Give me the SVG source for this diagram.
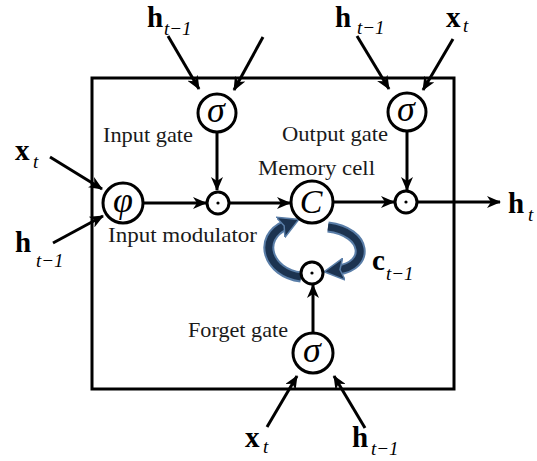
<svg xmlns="http://www.w3.org/2000/svg" width="537" height="461" viewBox="0 0 537 461">
<defs>
<marker id="ah" markerUnits="userSpaceOnUse" markerWidth="16" markerHeight="12" refX="13" refY="6" orient="auto">
<path d="M0,0 L14,6 L0,12 L4,6 z" fill="#000"/>
</marker>
<marker id="bh" markerUnits="userSpaceOnUse" markerWidth="24" markerHeight="24" refX="6" refY="12" orient="auto">
<path d="M0,1 L20,12 L0,23 L4,12 z" fill="#1c3350" stroke="#5a7ea8" stroke-width="1.5"/>
</marker>
<style>
.ln{stroke:#000;stroke-width:3;fill:none}
.ar{stroke:#000;stroke-width:3;fill:none;marker-end:url(#ah)}
.nd{stroke:#000;stroke-width:3;fill:#fff}
.lb{font-family:"Liberation Serif",serif;font-size:21px;fill:#1a1a1a}
.bv{font-family:"Liberation Serif",serif;font-size:29px;font-weight:bold;fill:#000}
.sb{font-family:"Liberation Serif",serif;font-size:19px;font-style:italic;fill:#000}
.gk{font-family:"Liberation Serif",serif;font-size:36px;font-style:italic;fill:#000;text-anchor:middle}
.blo{stroke:#5a7ea8;stroke-width:11;fill:none}
.bli{stroke:#1c3350;stroke-width:7;fill:none}
</style>
</defs>
<rect x="92" y="78" width="362" height="311" class="ln"/>
<g id="connectors">
<line x1="168" y1="36" x2="199" y2="89" class="ar"/>
<line x1="263" y1="37" x2="234" y2="90" class="ar"/>
<line x1="357" y1="36" x2="389" y2="89" class="ar"/>
<line x1="453" y1="39" x2="423" y2="90" class="ar"/>
<line x1="217" y1="133" x2="217" y2="190" class="ar"/>
<line x1="144" y1="203" x2="206" y2="203" class="ar"/>
<line x1="230" y1="203" x2="290" y2="203" class="ar"/>
<line x1="333" y1="202" x2="394" y2="202" class="ar"/>
<line x1="407" y1="132" x2="407" y2="190" class="ar"/>
<line x1="418" y1="202" x2="500" y2="202" class="ar"/>
<line x1="50" y1="157" x2="102" y2="189" class="ar"/>
<line x1="53" y1="243" x2="103" y2="216" class="ar"/>
<line x1="313" y1="332" x2="313" y2="285" class="ar"/>
<line x1="267" y1="427" x2="297" y2="376" class="ar"/>
<line x1="365" y1="428" x2="334" y2="376" class="ar"/>
<path d="M301,277 C268,273 256,238 286,225" class="blo"/>
<path d="M301,277 C268,273 256,238 286,225" class="bli" marker-end="url(#bh)"/>
<path d="M328,227 C368,232 370,266 338,270" class="blo"/>
<path d="M328,227 C368,232 370,266 338,270" class="bli" marker-end="url(#bh)"/>
</g>
<g id="input-gate">
<circle cx="217" cy="113" r="19" class="nd"/>
<text x="216" y="122" class="gk">σ</text>
<text x="103" y="142" class="lb" textLength="90" lengthAdjust="spacingAndGlyphs">Input gate</text>
</g>
<g id="output-gate">
<circle cx="407" cy="112" r="19" class="nd"/>
<text x="406" y="121" class="gk">σ</text>
<text x="282" y="141" class="lb" textLength="106" lengthAdjust="spacingAndGlyphs">Output gate</text>
</g>
<g id="input-modulator">
<circle cx="123" cy="203" r="20" class="nd"/>
<text x="123" y="212" class="gk">φ</text>
<text x="108" y="242" class="lb" textLength="149" lengthAdjust="spacingAndGlyphs">Input modulator</text>
</g>
<g id="input-mult">
<circle cx="218" cy="203" r="11" class="nd"/>
<circle cx="218" cy="203" r="1.6" fill="#000"/>
</g>
<g id="memory-cell">
<circle cx="312" cy="202" r="21" class="nd"/>
<text x="311" y="213" class="gk" style="font-size:34px">C</text>
<text x="258" y="175" class="lb" textLength="117" lengthAdjust="spacingAndGlyphs">Memory cell</text>
</g>
<g id="output-mult">
<circle cx="406" cy="202" r="11" class="nd"/>
<circle cx="406" cy="202" r="1.6" fill="#000"/>
</g>
<g id="forget-mult">
<circle cx="312" cy="273" r="11" class="nd"/>
<circle cx="312" cy="273" r="1.6" fill="#000"/>
</g>
<g id="forget-gate">
<circle cx="313" cy="353" r="20" class="nd"/>
<text x="312" y="362" class="gk">σ</text>
<text x="188" y="337" class="lb" textLength="100" lengthAdjust="spacingAndGlyphs">Forget gate</text>
</g>
<g id="labels">
<text x="147" y="27" class="bv">h</text><text x="164" y="35" class="sb">t−1</text>
<text x="335" y="27" class="bv">h</text><text x="357" y="34" class="sb">t−1</text>
<text x="446" y="27" class="bv">x</text><text x="463" y="32" class="sb">t</text>
<text x="15" y="160" class="bv">x</text><text x="33" y="168" class="sb">t</text>
<text x="15" y="252" class="bv">h</text><text x="36" y="267" class="sb">t−1</text>
<text x="372" y="270" class="bv">c</text><text x="386" y="280" class="sb">t−1</text>
<text x="508" y="213" class="bv">h</text><text x="528" y="221" class="sb">t</text>
<text x="245" y="447" class="bv">x</text><text x="263" y="453" class="sb">t</text>
<text x="352" y="447" class="bv">h</text><text x="371" y="455" class="sb">t−1</text>
</g>
</svg>
